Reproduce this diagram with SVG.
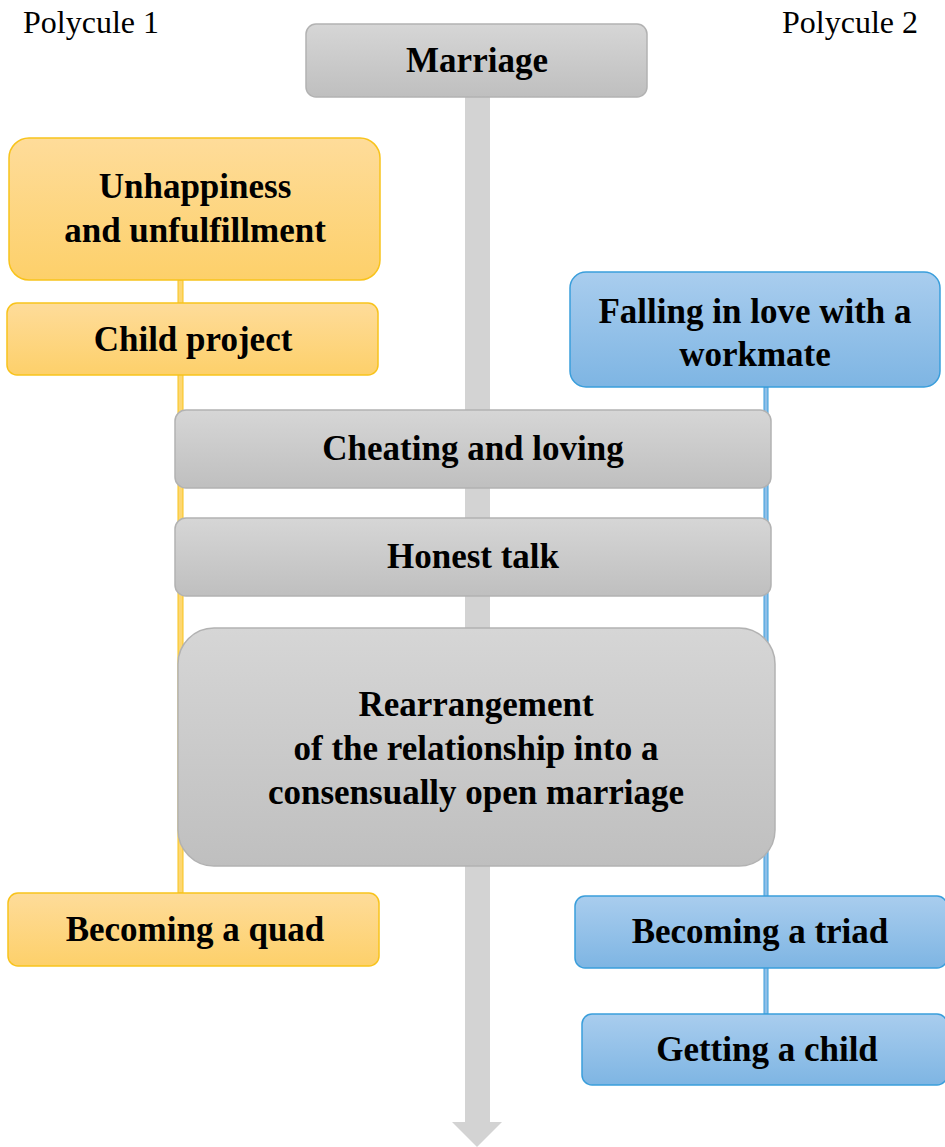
<svg xmlns="http://www.w3.org/2000/svg" width="945" height="1147" viewBox="0 0 945 1147">
<defs>
<linearGradient id="gGray" x1="0" y1="0" x2="0" y2="1"><stop offset="0" stop-color="#d6d6d6"/><stop offset="1" stop-color="#bfbfbf"/></linearGradient>
<linearGradient id="gYel" x1="0" y1="0" x2="0" y2="1"><stop offset="0" stop-color="#fedc9a"/><stop offset="1" stop-color="#fdd06a"/></linearGradient>
<linearGradient id="gBlue" x1="0" y1="0" x2="0" y2="1"><stop offset="0" stop-color="#a9cdee"/><stop offset="1" stop-color="#7eb5e3"/></linearGradient>
</defs>
<style>
.gray{fill:url(#gGray);stroke:#b2b2b2;stroke-width:1.5}
.yel{fill:url(#gYel);stroke:#f8c31c;stroke-width:1.5}
.blue{fill:url(#gBlue);stroke:#3a9edb;stroke-width:1.5}
.t{font-family:"Liberation Serif","Times New Roman",serif;font-weight:bold;font-size:35px;fill:#000;text-anchor:middle}
.p{font-family:"Liberation Serif","Times New Roman",serif;font-size:32px;fill:#000}
</style>
<text class="p" x="23" y="33">Polycule 1</text>
<text class="p" x="918" y="33" text-anchor="end">Polycule 2</text>
<g id="connectors">
<polygon points="465,97 490,97 490,1122 502,1122 477,1147 452,1122 465,1122" fill="#d3d3d3"/>
<rect x="178" y="280" width="5" height="613" fill="#fdd772" stroke="#f8c31c" stroke-width="1"/>
<rect x="764" y="387" width="4" height="627" fill="#8ebfe8" stroke="#3a9edb" stroke-width="1"/>
</g>
<g id="marriage"><rect class="gray" x="306" y="24" width="341" height="73" rx="10"/><text class="t" x="477" y="72">Marriage</text></g>
<g id="unhappiness"><rect class="yel" x="9" y="138" width="371" height="142" rx="20"/><text class="t" x="195" y="198">Unhappiness</text><text class="t" x="195" y="242">and unfulfillment</text></g>
<g id="child-project"><rect class="yel" x="7" y="303" width="371" height="72" rx="10"/><text class="t" x="193" y="351">Child project</text></g>
<g id="falling"><rect class="blue" x="570" y="272" width="370" height="115" rx="16"/><text class="t" x="755" y="323">Falling in love with a</text><text class="t" x="755" y="366">workmate</text></g>
<g id="cheating"><rect class="gray" x="175" y="410" width="596" height="78" rx="11"/><text class="t" x="473" y="460">Cheating and loving</text></g>
<g id="honest"><rect class="gray" x="175" y="518" width="596" height="78" rx="11"/><text class="t" x="473" y="568">Honest talk</text></g>
<g id="rearrangement"><rect class="gray" x="178" y="628" width="597" height="238" rx="36"/><text class="t" x="476" y="716">Rearrangement</text><text class="t" x="476" y="760">of the relationship into a</text><text class="t" x="476" y="804">consensually open marriage</text></g>
<g id="quad"><rect class="yel" x="8" y="893" width="371" height="73" rx="10"/><text class="t" x="195" y="941">Becoming a quad</text></g>
<g id="triad"><rect class="blue" x="575" y="896" width="372" height="72" rx="10"/><text class="t" x="760" y="943">Becoming a triad</text></g>
<g id="getting-child"><rect class="blue" x="582" y="1014" width="365" height="71" rx="10"/><text class="t" x="767" y="1061">Getting a child</text></g>
</svg>
